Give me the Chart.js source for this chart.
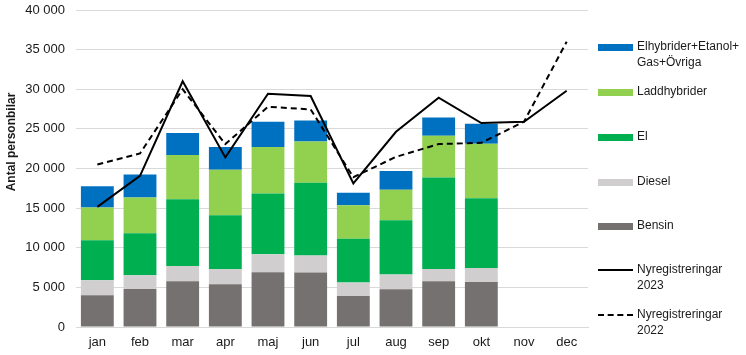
<!DOCTYPE html>
<html><head><meta charset="utf-8">
<script src="https://cdn.jsdelivr.net/npm/chart.js@4/dist/chart.umd.min.js"></script>
<style>
html,body{margin:0;padding:0;background:#fff;}
#wrap{position:relative;width:746px;height:355px;font-family:"Liberation Sans",Arial,sans-serif;}
#c{position:absolute;left:0;top:0;}
.lg{position:absolute;left:598px;font-size:12px;color:#1a1a1a;line-height:15.5px;}
.sw{position:absolute;left:0;width:35px;}
.tx{position:absolute;left:39px;white-space:nowrap;}
</style></head><body>
<div id="wrap"><canvas id="c" width="746" height="355"></canvas><div id="legend"></div></div>
<script>
const months = ["jan","feb","mar","apr","maj","jun","jul","aug","sep","okt","nov","dec"];
const bensin = [4000,4800,5770,5390,6910,6870,3920,4760,5770,5690,null,null];
const diesel = [1900,1730,1940,1900,2270,2150,1680,1860,1560,1760,null,null];
const el = [5050,5310,8420,6820,7670,9170,5520,6860,11540,8810,null,null];
const laddhybrider = [4130,4500,5560,5720,5850,5230,4250,3830,5260,6860,null,null];
const ovriga = [2690,2910,2780,2870,3200,2650,1560,2360,2320,2530,null,null];
const nyreg2023 = [15160,19070,31000,21400,29430,29140,18110,24630,28930,25730,25900,29810];
const nyreg2022 = [20510,21900,29990,23080,27790,27460,18900,21470,23080,23240,25900,36000];
const yTicks = [0,5000,10000,15000,20000,25000,30000,35000,40000];

const fmt = v => String(v).replace(/\B(?=(\d{3})+(?!\d))/g, " ");
const barDs = (label, data, color) => ({type:"bar", label, data, backgroundColor:color, stack:"a", order:2,
  barPercentage:0.77, categoryPercentage:1, borderWidth:0});
const datasets = [
  barDs("Bensin", bensin, "#767171"),
  barDs("Diesel", diesel, "#D0CECE"),
  barDs("El", el, "#00B050"),
  barDs("Laddhybrider", laddhybrider, "#92D050"),
  barDs("Elhybrider+Etanol+\nGas+Övriga", ovriga, "#0070C0"),
  {type:"line", label:"Nyregistreringar\n2023", data:nyreg2023, borderColor:"#000", borderWidth:2, pointRadius:0, tension:0, stack:"l1", order:1, fill:false},
  {type:"line", label:"Nyregistreringar\n2022", data:nyreg2022, borderColor:"#000", borderWidth:2, borderDash:[6,4], pointRadius:0, tension:0, stack:"l2", order:0, fill:false}
];

const titlePlugin = {id:"ytitle", afterDraw(chart){
  const ctx = chart.ctx; ctx.save();
  ctx.translate(12, 142); ctx.rotate(-Math.PI/2);
  ctx.font = "bold 12px 'Liberation Sans', Arial, sans-serif";
  ctx.fillStyle = "#1a1a1a"; ctx.textAlign = "center"; ctx.textBaseline = "middle";
  ctx.fillText("Antal personbilar", 0, 0); ctx.restore();
}};

new Chart(document.getElementById("c"), {
  data:{labels:months, datasets},
  options:{
    responsive:false, animation:false,
    layout:{padding:{left:0, right:158, top:10, bottom:0}},
    plugins:{legend:{display:false}, tooltip:{enabled:false}},
    scales:{
      x:{stacked:true, grid:{display:false, drawTicks:false}, border:{color:"#D9D9D9"},
        ticks:{padding:8, color:"#1a1a1a", font:{family:"'Liberation Sans', Arial", size:13}},
        afterFit(s){s.height = 28;}},
      y:{stacked:true, min:0, max:40000, afterBuildTicks(s){s.ticks = yTicks.map(v=>({value:v}));},
        grid:{color:"#D9D9D9", drawTicks:false}, border:{display:false},
        ticks:{padding:11, color:"#1a1a1a", font:{family:"'Liberation Sans', Arial", size:13}, callback:v=>fmt(v)},
        afterFit(s){s.width = 76; s.paddingTop = 0; s.paddingBottom = 0;}}
    }
  },
  plugins:[titlePlugin]
});

// HTML legend
const legendItems = [
  {label:datasets[4].label, color:"#0070C0", y:47},
  {label:datasets[3].label, color:"#92D050", y:92},
  {label:datasets[2].label, color:"#00B050", y:137},
  {label:datasets[1].label, color:"#D0CECE", y:182},
  {label:datasets[0].label, color:"#767171", y:226},
  {label:datasets[5].label, line:"solid", y:270},
  {label:datasets[6].label, line:"dashed", y:315}
];
const lg = document.getElementById("legend");
legendItems.forEach(it=>{
  const d = document.createElement("div"); d.className="lg"; d.style.top=(it.y)+"px";
  const sw = document.createElement("div"); sw.className="sw";
  if(it.line){ sw.style.top="-1px"; sw.style.height="0"; sw.style.borderTop="2px "+it.line+" #000"; }
  else { sw.style.top="-3px"; sw.style.height="7px"; sw.style.background=it.color; }
  const tx = document.createElement("div"); tx.className="tx"; tx.style.top="-8px";
  tx.innerHTML = it.label.split("\n").join("<br>");
  d.appendChild(sw); d.appendChild(tx); lg.appendChild(d);
});
</script></body></html>
